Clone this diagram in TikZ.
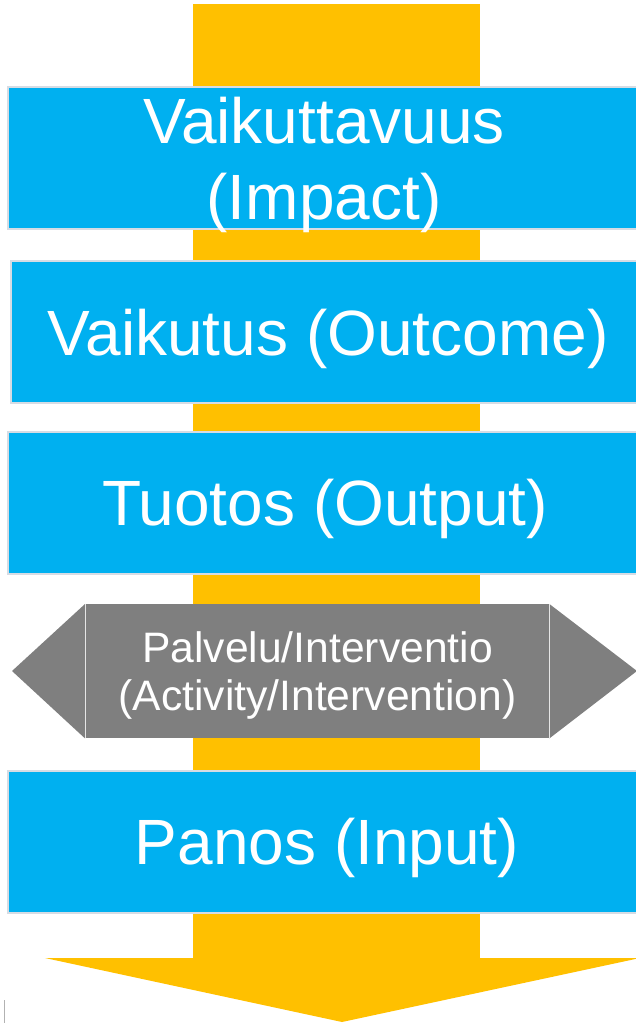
\documentclass[tikz,border=0pt]{standalone}
\usepackage{fontspec}
\setmainfont{Liberation Sans}
\definecolor{boxblue}{HTML}{00B0F0}
\definecolor{barorange}{HTML}{FFC000}
\definecolor{hexgray}{HTML}{7F7F7F}
\definecolor{rim}{HTML}{D6DCE4}
\begin{document}
\begin{tikzpicture}[x=1pt,y=-1pt,
  bluebox/.style={draw=rim, line width=2pt, fill=boxblue, inner sep=0pt, anchor=north west, minimum height=142pt},
  bigtext/.style={text=white, font=\fontsize{64}{76}\selectfont, anchor=base, inner sep=0pt},
  smalltext/.style={text=white, font=\fontsize{42.6}{48}\selectfont, anchor=base, inner sep=0pt},
  midbox/.style={fill=hexgray, draw=none, inner sep=0pt, anchor=north west, minimum width=464pt, minimum height=134pt},
  joinline/.style={draw=white!80!hexgray, line width=1pt}]
\useasboundingbox (0,0) rectangle (636,1023);
% orange arrow
\fill[barorange] (193,4) rectangle (480,959);
\fill[barorange] (45,958) -- (640,958) -- (342,1022) -- cycle;
% blue boxes
\node[bluebox, minimum width=634pt] (b1) at (7,86) {};
\node[bluebox, minimum width=631pt] (b2) at (10,260) {};
\node[bluebox, minimum width=634pt] (b3) at (7,431) {};
\node[bluebox, minimum width=634pt] (b5) at (7,770) {};
% gray double-pointed shape
\node[midbox] (mid) at (85,604) {};
\coordinate (ltip) at (12,671);
\coordinate (rtip) at (637,671);
\fill[hexgray] (mid.north west) -- (ltip) -- (mid.south west) -- cycle;
\fill[hexgray] (mid.north east) -- (rtip) -- (mid.south east) -- cycle;
\draw[joinline] (mid.north west) -- (mid.south west);
\draw[joinline] (mid.north east) -- (mid.south east);
% texts
\node[bigtext] (t1a) at (324,143) {Vaikuttavuus};
\node[bigtext] (t1b) at (324,219) {(Impact)};
\node[bigtext] (t2) at (328,355) {Vaikutus (Outcome)};
\node[bigtext] (t3) at (325,525) {Tuotos (Output)};
\node[smalltext] (t4a) at (317.5,662) {Palvelu/Interventio};
\node[smalltext] (t4b) at (317.5,710) {(Activity/Intervention)};
\node[bigtext] (t5) at (327,864) {Panos (Input)};
% small mark at bottom left
\coordinate (m1) at (4,1000);
\coordinate (m2) at (4,1023);
\draw[gray!60, line width=1pt] (m1) -- (m2);
\end{tikzpicture}
\end{document}
